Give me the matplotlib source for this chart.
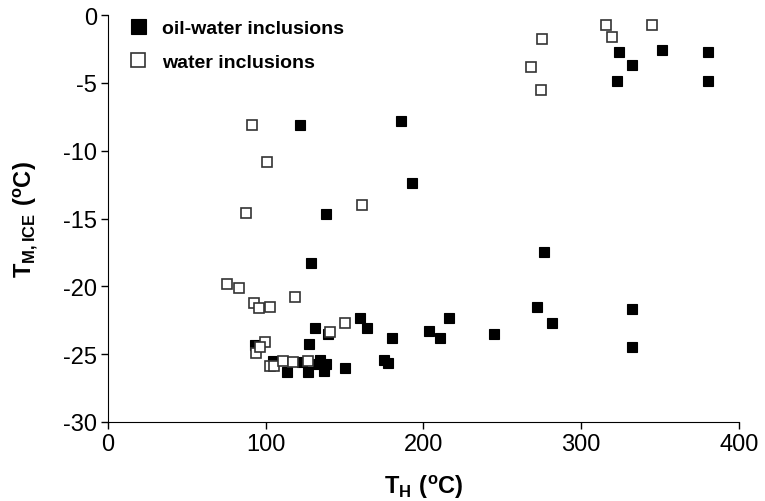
import matplotlib
matplotlib.use("Agg")
import matplotlib.pyplot as plt

plt.rcParams['font.family'] = ['Liberation Sans', 'DejaVu Sans']
plt.rcParams['mathtext.fontset'] = 'custom'
plt.rcParams['mathtext.rm'] = 'Liberation Sans'
plt.rcParams['mathtext.bf'] = 'Liberation Sans:bold'
plt.rcParams['axes.unicode_minus'] = False

# oil-water inclusions (filled squares): T_H, T_m,ice
oil_th = [93.2, 104.8, 113.3, 122.8, 126.9, 127.6, 131.2, 134.5, 133.3, 138.4,
          137.0, 139.7, 150.2, 159.7, 164.5, 174.9, 177.3, 179.8, 203.5, 210.5,
          216.4, 244.7, 271.8, 276.5, 281.3, 331.9, 331.9, 128.7, 121.9, 185.7,
          192.9, 138.4, 323.9, 351.0, 380.5, 331.9, 322.4, 380.5]
oil_tm = [-24.3, -25.5, -26.3, -25.6, -26.3, -24.25, -23.1, -25.4, -25.7, -25.75,
          -26.25, -23.5, -26.05, -22.3, -23.1, -25.4, -25.65, -23.8, -23.3, -23.8,
          -22.3, -23.55, -21.5, -17.5, -22.7, -21.7, -24.5, -18.3, -8.1, -7.8,
          -12.4, -14.7, -2.7, -2.6, -2.7, -3.7, -4.9, -4.9]

# water inclusions (open squares)
wat_th = [75.2, 83.3, 92.5, 95.7, 102.7, 118.3, 99.4, 94.1, 96.5, 102.7,
          105.0, 111.1, 117.3, 126.9, 140.7, 150.2, 160.9, 87.7, 91.1, 100.6,
          275.3, 268.2, 274.3, 315.7, 319.3, 345.0]
wat_tm = [-19.8, -20.1, -21.2, -21.6, -21.5, -20.8, -24.1, -24.9, -24.5, -25.85,
          -25.9, -25.5, -25.6, -25.5, -23.4, -22.7, -14.0, -14.6, -8.1, -10.8,
          -1.8, -3.8, -5.5, -0.76, -1.6, -0.76]

fig = plt.figure(figsize=(7.65, 5.02), dpi=100)
ax = fig.add_axes([108/765, 1-423/502, 631/765, 407/502])

ax.plot(oil_th, oil_tm, 's', ms=7.2, mfc='black', mec='black', mew=0.8,
        label='oil-water inclusions', zorder=3)
ax.plot(wat_th, wat_tm, 's', ms=6.8, mfc='white', mec='#333333', mew=1.2,
        label='water inclusions', zorder=4)

ax.set_xlim(0, 400)
ax.set_ylim(-30, 0)
ax.set_xticks([0, 100, 200, 300, 400])
ax.set_yticks([0, -5, -10, -15, -20, -25, -30])
ax.spines['top'].set_visible(False)
ax.spines['right'].set_visible(False)
ax.tick_params(direction='out', length=5, width=1, labelsize=17, pad=3)

ax.set_xlabel(r'$\mathbf{T_H\ (^oC)}$', fontsize=17)
ax.set_ylabel(r'$\mathbf{T_{M,ICE}\ (^oC)}$', fontsize=17)
ax.xaxis.set_label_coords(0.5, -0.124)
ax.yaxis.set_label_coords(-0.108, 0.5)

leg = ax.legend(loc='upper left', bbox_to_anchor=(0.005, 1.032), frameon=False,
                markerscale=1.5, prop={'weight': 'bold', 'size': 14},
                handlelength=1.0, handletextpad=0.7, labelspacing=0.85)

fig.savefig('out.png', dpi=100)
